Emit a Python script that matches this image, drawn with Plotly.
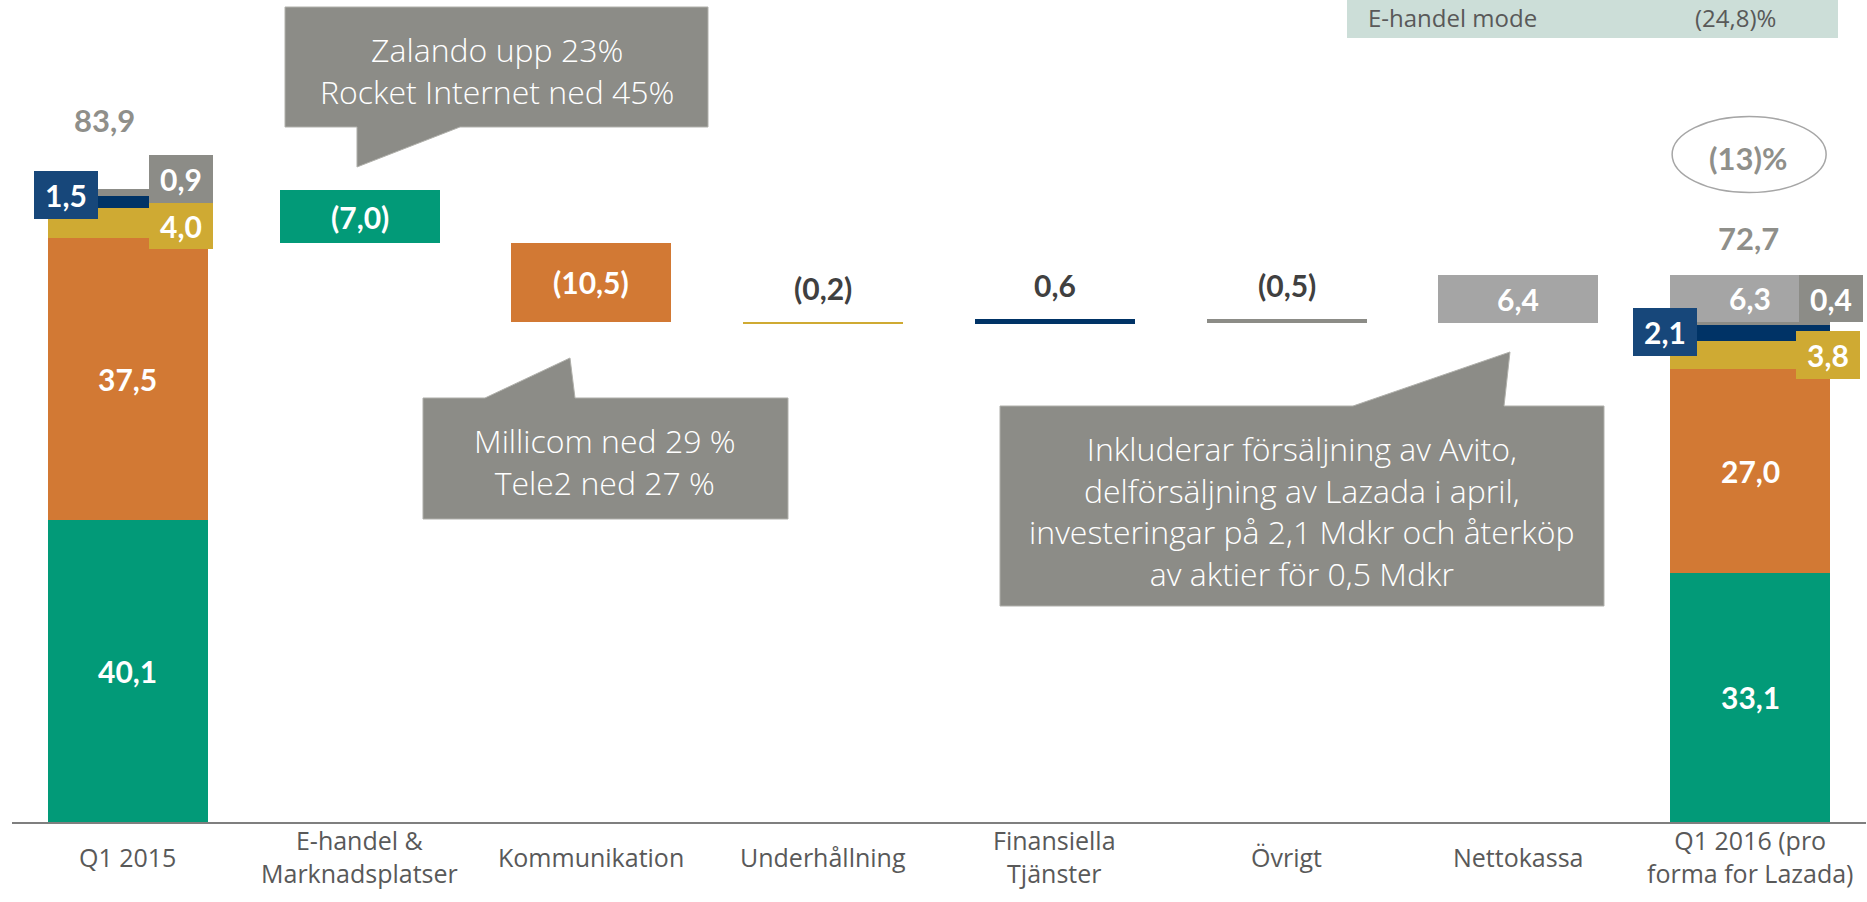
import plotly.graph_objects as go

# ---------------- data ----------------
categories = ["Q1 2015", "E-handel &<br>Marknadsplatser", "Kommunikation", "Underhållning",
              "Finansiella<br>Tjänster", "Övrigt", "Nettokassa", "Q1 2016 (pro<br>forma for Lazada)"]
segments = ["E-handel & Marknadsplatser", "Kommunikation", "Underhållning",
            "Finansiella Tjänster", "Övrigt", "Nettokassa"]
q1_2015 = [40.1, 37.5, 4.0, 1.5, 0.9, -0.1]
changes = [-7.0, -10.5, -0.2, 0.6, -0.5, 6.4]
q1_2016 = [33.1, 27.0, 3.8, 2.1, 0.4, 6.3]
total_2015 = 83.9
total_2016 = 72.7
callout_zalando = ["Zalando upp 23%", "Rocket Internet ned 45%"]
callout_millicom = ["Millicom ned 29 %", "Tele2 ned 27 %"]
callout_netto = ["Inkluderar försäljning av Avito,", "delförsäljning av Lazada i april,",
                 "investeringar på 2,1 Mdkr och återköp", "av aktier för 0,5 Mdkr"]
info_label = "E-handel mode"
info_value = "(24,8)%"

# ---------------- style ----------------
colors = ["#029A78", "#D27934", "#CFAA33", "#003366", "#8C8C87", "#A5A5A5"]
box_colors = ["#029A78", "#D27934", "#CFAA33", "#17477A", "#8C8C87", "#A5A5A5"]
W, H = 1867, 902
L, R, T, B = 12, 1, 0, 80
PX_PER_UNIT = 7.53
plot_h = H - T - B
plot_w = W - L - R
YMAX = plot_h / PX_PER_UNIT
FONT = "Lato"
FONT_TXT = "Open Sans"
TXT_GREY = "#595959"
TOT_GREY = "#8F8F8A"


def fmt(v):
    s = f"{abs(v):.1f}".replace(".", ",")
    return f"({s})" if v < 0 else s


def px_x(px):
    return (px - L) / plot_w


def px_y(py):
    return (H - B - py) / plot_h


def stack_bases(vals):
    pos, neg, out = 0.0, 0.0, []
    for v in vals:
        if v >= 0:
            out.append(pos)
            pos += v
        else:
            out.append(neg)
            neg += v
    return out


b15 = stack_bases(q1_2015)
b16 = stack_bases(q1_2016)
wf_base = []
level = total_2015
for c in changes:
    wf_base.append(level)
    level += c

fig = go.Figure()
for i, seg in enumerate(segments):
    fig.add_trace(go.Bar(
        x=[0, i + 1, 7],
        y=[q1_2015[i], changes[i], q1_2016[i]],
        base=[b15[i], wf_base[i], b16[i]],
        marker=dict(color=colors[i], line=dict(width=0)),
        width=0.69, name=seg, showlegend=False,
    ))

ann = []


def text_label(x, y, text, color="white", size=30, xshift=0, yshift=0, weight=700):
    ann.append(dict(x=x, y=y, xref="x", yref="y", text=text, showarrow=False,
                    xshift=xshift, yshift=yshift, xanchor="center", yanchor="middle",
                    font=dict(family=FONT, size=size, color=color, weight=weight)))


def box_label(x, y, text, bg, w, h, xshift, yshift):
    ann.append(dict(x=x, y=y, xref="x", yref="y", text=text, showarrow=False,
                    xshift=xshift, yshift=yshift, xanchor="center", yanchor="middle",
                    width=w, height=h, bgcolor=bg, borderpad=0, borderwidth=0,
                    align="center", valign="middle",
                    font=dict(family=FONT, size=30, color="white", weight=700)))


def mid(base, v):
    return base + v / 2


# Q1 2015 labels
text_label(0, mid(b15[0], q1_2015[0]), fmt(q1_2015[0]))
text_label(0, mid(b15[1], q1_2015[1]), fmt(q1_2015[1]))
box_label(0, mid(b15[2], q1_2015[2]), fmt(q1_2015[2]), box_colors[2], 64, 46, 53, -3)
box_label(0, mid(b15[3], q1_2015[3]), fmt(q1_2015[3]), box_colors[3], 64, 48, -62, 7)
box_label(0, mid(b15[4], q1_2015[4]), fmt(q1_2015[4]), box_colors[4], 64, 48, 53, 14)
box_label(0, mid(b15[5], q1_2015[5]), fmt(q1_2015[5]), box_colors[5], 85, 47, 56, 22)
text_label(0, total_2015, fmt(total_2015), color=TOT_GREY, size=31, xshift=-23, yshift=70)

# Q1 2016 labels
text_label(7, mid(b16[0], q1_2016[0]), fmt(q1_2016[0]))
text_label(7, mid(b16[1], q1_2016[1]), fmt(q1_2016[1]))
box_label(7, mid(b16[2], q1_2016[2]), fmt(q1_2016[2]), box_colors[2], 64, 48, 78, 0)
box_label(7, mid(b16[3], q1_2016[3]), fmt(q1_2016[3]), box_colors[3], 64, 48, -85, 1)
box_label(7, mid(b16[4], q1_2016[4]), fmt(q1_2016[4]), box_colors[4], 64, 47, 81, 25)
text_label(7, mid(b16[5], q1_2016[5]), fmt(q1_2016[5]))
text_label(7, total_2016, fmt(total_2016), color=TOT_GREY, size=31, xshift=-2, yshift=37)
pct = round((total_2016 / total_2015 - 1) * 100)
pct_txt = f"({abs(pct)})%" if pct < 0 else f"{pct}%"
text_label(7, total_2016, pct_txt, color=TOT_GREY, size=31, xshift=-2, yshift=117)

# waterfall labels
for i, c in enumerate(changes):
    x = i + 1
    if abs(c) >= 2:
        text_label(x, mid(wf_base[i], c), fmt(c))
    else:
        top = max(wf_base[i], wf_base[i] + c)
        text_label(x, top, fmt(c), color="#404040", yshift=34)

# category labels
for i, cat in enumerate(categories):
    ann.append(dict(x=i, y=px_y(857), xref="x", yref="paper", text=cat, showarrow=False,
                    xanchor="center", yanchor="middle", align="center",
                    font=dict(family=FONT_TXT, size=25, color=TXT_GREY, weight=400)))

# callout texts
for lines, cx, cy in [(callout_zalando, 497, 71),
                      (callout_millicom, 605, 461),
                      (callout_netto, 1302, 511)]:
    ann.append(dict(x=px_x(cx), y=px_y(cy), xref="paper", yref="paper", text="<br>".join(lines),
                    showarrow=False, xanchor="center", yanchor="middle", align="center",
                    font=dict(family=FONT_TXT, size=32, color="white", weight=300)))

# info box text
ann.append(dict(x=px_x(1366), y=px_y(17), xref="paper", yref="paper", text=info_label,
                showarrow=False, xanchor="left", yanchor="middle",
                font=dict(family=FONT_TXT, size=24, color=TXT_GREY, weight=400)))
ann.append(dict(x=px_x(1693), y=px_y(17), xref="paper", yref="paper", text=info_value,
                showarrow=False, xanchor="left", yanchor="middle",
                font=dict(family=FONT_TXT, size=24, color=TXT_GREY, weight=400)))


def poly(points):
    return "M " + " L ".join(f"{px_x(a):.5f},{px_y(b):.5f}" for a, b in points) + " Z"


shapes = []
callout_fill = "#8C8C87"
for pts in [
    [(285, 7), (708, 7), (708, 127), (460, 127), (357, 167), (357, 127), (285, 127)],
    [(423, 398), (485, 398), (570, 358), (575, 398), (788, 398), (788, 519), (423, 519)],
    [(1000, 406), (1353, 406), (1510, 352), (1504, 406), (1604, 406), (1604, 606), (1000, 606)],
]:
    shapes.append(dict(type="path", xref="paper", yref="paper", path=poly(pts),
                       fillcolor=callout_fill, line=dict(color="#B0B0AB", width=1), layer="above"))

shapes.append(dict(type="rect", xref="paper", yref="paper",
                   x0=px_x(1347), x1=px_x(1838), y0=px_y(38), y1=px_y(0),
                   fillcolor="#CCDED8", line=dict(width=0), layer="below"))

shapes.append(dict(type="circle", xref="x", yref="y", xsizemode="pixel", ysizemode="pixel",
                   xanchor=7, yanchor=total_2016, x0=-78, x1=76, y0=82, y1=158,
                   line=dict(color="#A6A6A6", width=1.5), fillcolor="rgba(0,0,0,0)"))

fig.update_layout(
    width=W, height=H,
    margin=dict(l=L, r=R, t=T, b=B, pad=0),
    paper_bgcolor="white", plot_bgcolor="white",
    barmode="overlay", bargap=0,
    showlegend=False,
    xaxis=dict(range=[-0.5, 7.5], showgrid=False, zeroline=False, showticklabels=False,
               ticks="", showline=True, linecolor="#7F7F7F", linewidth=2, fixedrange=True),
    yaxis=dict(range=[0, YMAX], visible=False, showgrid=False, zeroline=False, fixedrange=True),
    annotations=ann, shapes=shapes,
    font=dict(family=FONT),
)

fig.write_html("out.html", config={"displayModeBar": False},
               post_script="document.body.style.margin='0';")
